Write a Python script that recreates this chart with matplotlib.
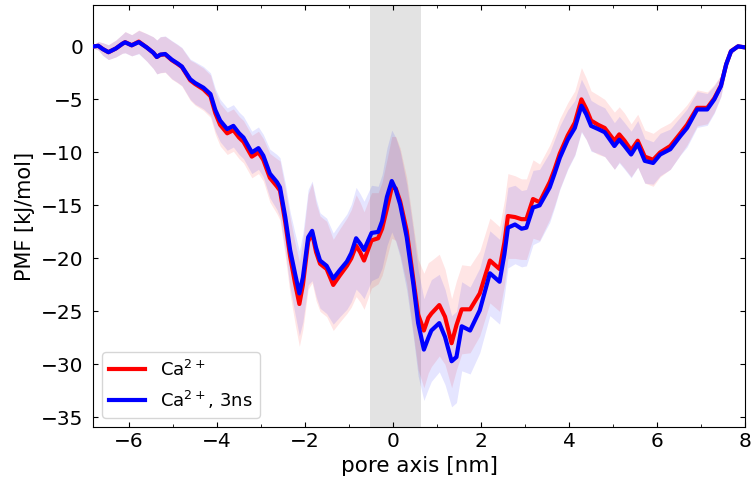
import matplotlib
matplotlib.use("Agg")
import matplotlib.pyplot as plt
import numpy as np
from matplotlib.ticker import MultipleLocator

# pore axis positions [nm]
x_nm = [-6.80, -6.70, -6.60, -6.47, -6.30, -6.15, -6.09, -5.94, -5.78, -5.60,
        -5.45, -5.37, -5.29, -5.18, -5.03, -4.90, -4.80, -4.61, -4.50, -4.31,
        -4.15, -4.04, -3.93, -3.77, -3.63, -3.50, -3.40, -3.21, -3.06, -2.95,
        -2.80, -2.64, -2.57, -2.45, -2.34, -2.23, -2.13, -2.05, -1.93, -1.84,
        -1.75, -1.66, -1.51, -1.36, -1.21, -1.05, -0.95, -0.84, -0.75, -0.66,
        -0.49, -0.34, -0.25, -0.14, -0.03, 0.06, 0.16, 0.31, 0.46, 0.57,
        0.70, 0.80, 0.87, 1.05, 1.18, 1.33, 1.44, 1.56, 1.75, 1.97,
        2.20, 2.42, 2.53, 2.61, 2.77, 2.92, 3.03, 3.18, 3.33, 3.56,
        3.67, 3.79, 3.97, 4.13, 4.28, 4.39, 4.50, 4.66, 4.81, 5.03,
        5.14, 5.26, 5.41, 5.56, 5.72, 5.91, 6.07, 6.30, 6.53, 6.68,
        6.91, 7.14, 7.30, 7.45, 7.57, 7.68, 7.84, 8.00]

# PMF, Ca2+ [kJ/mol]
pmf_ca = [0.0, 0.05, -0.25, -0.55, -0.2, 0.25, 0.4, 0.1, 0.45, -0.1,
          -0.6, -1.0, -0.8, -0.75, -1.3, -1.65, -1.95, -3.2, -3.55, -4.05,
          -4.7, -6.3, -7.4, -8.2, -7.9, -8.6, -9.0, -10.4, -10.0, -10.7,
          -12.4, -13.2, -13.6, -16.6, -19.8, -22.3, -24.3, -22.5, -18.4, -17.6,
          -19.4, -20.5, -21.0, -22.5, -21.6, -20.7, -20.0, -18.8, -19.4, -20.2,
          -18.3, -18.1, -17.2, -15.3, -13.3, -13.4, -14.6, -17.4, -22.0, -25.3,
          -26.8, -25.6, -25.2, -24.4, -25.5, -28.0, -26.3, -24.8, -24.8, -23.3,
          -20.2, -21.0, -18.5, -16.0, -16.1, -16.3, -16.3, -14.4, -14.7, -12.8,
          -11.6, -10.1, -8.4, -7.2, -5.0, -5.9, -7.0, -7.4, -7.7, -8.9,
          -8.3, -8.9, -9.8, -8.9, -10.4, -10.7, -10.0, -9.4, -8.2, -7.4,
          -5.8, -5.8, -4.9, -3.7, -1.7, -0.45, 0.0, -0.1]

# PMF, Ca2+ 3ns [kJ/mol]
pmf_ca_3ns = [0.0, 0.05, -0.25, -0.55, -0.2, 0.25, 0.38, 0.1, 0.4, -0.1,
              -0.6, -1.0, -0.78, -0.72, -1.25, -1.6, -1.9, -3.1, -3.45, -3.9,
              -4.5, -6.0, -7.0, -7.8, -7.5, -8.2, -8.6, -10.0, -9.6, -10.3,
              -12.0, -12.8, -13.3, -16.1, -19.2, -21.4, -23.3, -21.8, -18.0, -17.4,
              -19.0, -20.2, -20.7, -21.9, -21.1, -20.3, -19.5, -18.1, -18.6, -19.2,
              -17.6, -17.5, -16.5, -14.2, -12.7, -13.5, -14.9, -18.0, -22.4, -26.1,
              -28.6, -27.5, -26.8, -26.1, -27.4, -29.7, -29.3, -26.4, -26.8, -24.9,
              -21.4, -22.2, -19.6, -17.1, -16.8, -17.2, -17.1, -15.2, -15.0, -13.3,
              -12.0, -10.5, -8.8, -7.7, -5.6, -6.4, -7.5, -7.8, -8.1, -9.4,
              -8.8, -9.4, -10.2, -9.2, -10.8, -11.0, -10.2, -9.7, -8.45, -7.7,
              -5.95, -5.95, -5.0, -3.75, -1.7, -0.47, 0.0, -0.1]

# uncertainty half-widths [kJ/mol]
err_ca = [0.2, 0.4, 0.6, 0.7, 0.8, 0.9, 1.0, 1.0, 1.1, 1.3,
          1.5, 1.6, 1.7, 1.7, 1.8, 1.8, 1.8, 1.9, 2.0, 2.0,
          2.0, 2.0, 2.0, 2.0, 2.0, 2.0, 2.0, 2.0, 2.0, 2.0,
          2.3, 2.6, 2.8, 3.2, 3.6, 3.8, 4.0, 4.2, 4.5, 4.7,
          4.6, 4.5, 4.5, 4.3, 4.4, 4.5, 4.6, 4.8, 4.7, 4.6,
          4.5, 4.3, 4.4, 4.6, 4.8, 4.9, 5.0, 5.0, 5.1, 5.2,
          5.4, 5.2, 5.0, 4.8, 4.5, 4.2, 4.2, 4.2, 4.1, 4.0,
          4.0, 4.0, 4.0, 4.0, 3.9, 3.8, 3.8, 3.7, 3.6, 3.5,
          3.4, 3.3, 3.1, 3.0, 3.0, 2.9, 2.8, 2.8, 2.7, 2.7,
          2.6, 2.6, 2.5, 2.5, 2.5, 2.5, 2.3, 2.2, 2.0, 1.9,
          1.7, 1.5, 1.3, 1.0, 0.6, 0.3, 0.1, 0.0]

err_ca_3ns = [0.2, 0.4, 0.6, 0.7, 0.8, 0.9, 1.0, 1.0, 1.1, 1.3,
              1.5, 1.6, 1.7, 1.7, 1.8, 1.8, 1.8, 1.9, 2.0, 2.0,
              2.0, 2.0, 2.0, 2.0, 2.0, 2.0, 2.0, 2.0, 2.0, 2.0,
              2.3, 2.6, 2.8, 3.2, 3.6, 3.8, 4.0, 4.2, 4.5, 4.7,
              4.6, 4.5, 4.5, 4.3, 4.4, 4.5, 4.6, 4.8, 4.7, 4.6,
              4.5, 4.3, 4.4, 4.6, 4.8, 4.9, 5.0, 5.0, 5.0, 5.0,
              4.8, 4.8, 4.8, 4.6, 4.5, 4.3, 4.3, 4.2, 4.1, 4.0,
              4.0, 4.0, 3.9, 3.8, 3.7, 3.6, 3.6, 3.5, 3.4, 3.3,
              3.2, 3.0, 2.8, 2.6, 2.5, 2.4, 2.4, 2.3, 2.3, 2.2,
              2.2, 2.2, 2.2, 2.2, 2.1, 2.0, 2.0, 1.9, 1.8, 1.8,
              1.7, 1.5, 1.3, 1.0, 0.6, 0.3, 0.1, 0.0]

labels = [r"Ca$^{2+}$", r"Ca$^{2+}$, 3ns"]
colors = ["red", "blue"]
pore_region = (-0.52, 0.63)

fig = plt.figure(figsize=(7.53, 4.86), dpi=100)
ax = fig.add_axes([0.1235, 0.1214, 0.866, 0.8683])

x = np.array(x_nm)
ax.axvspan(*pore_region, color="0.5", alpha=0.22, lw=0, zorder=0)
for y, e, c in [(pmf_ca, err_ca, colors[0]),
                (pmf_ca_3ns, err_ca_3ns, colors[1])]:
    y = np.array(y)
    e = np.array(e)
    ax.fill_between(x, y - e, y + e, color=c, alpha=0.1, lw=0, zorder=1)
for y, c, lab in [(pmf_ca, colors[0], labels[0]),
                  (pmf_ca_3ns, colors[1], labels[1])]:
    ax.plot(x, y, color=c, lw=3, label=lab, zorder=3)

ax.set_xlim(-6.82, 8.0)
ax.set_ylim(-35.9, 3.9)
ax.xaxis.set_major_locator(MultipleLocator(2))
ax.xaxis.set_minor_locator(MultipleLocator(1))
ax.yaxis.set_major_locator(MultipleLocator(5))
ax.tick_params(which="both", direction="in", top=True, right=True, labelsize=14.5)
ax.tick_params(axis="y", pad=7)
ax.set_xlabel("pore axis [nm]", fontsize=15.5)
ax.set_ylabel("PMF [kJ/mol]", fontsize=15)
ax.legend(loc="lower left", fontsize=13)

fig.savefig("out.png", dpi=100)
